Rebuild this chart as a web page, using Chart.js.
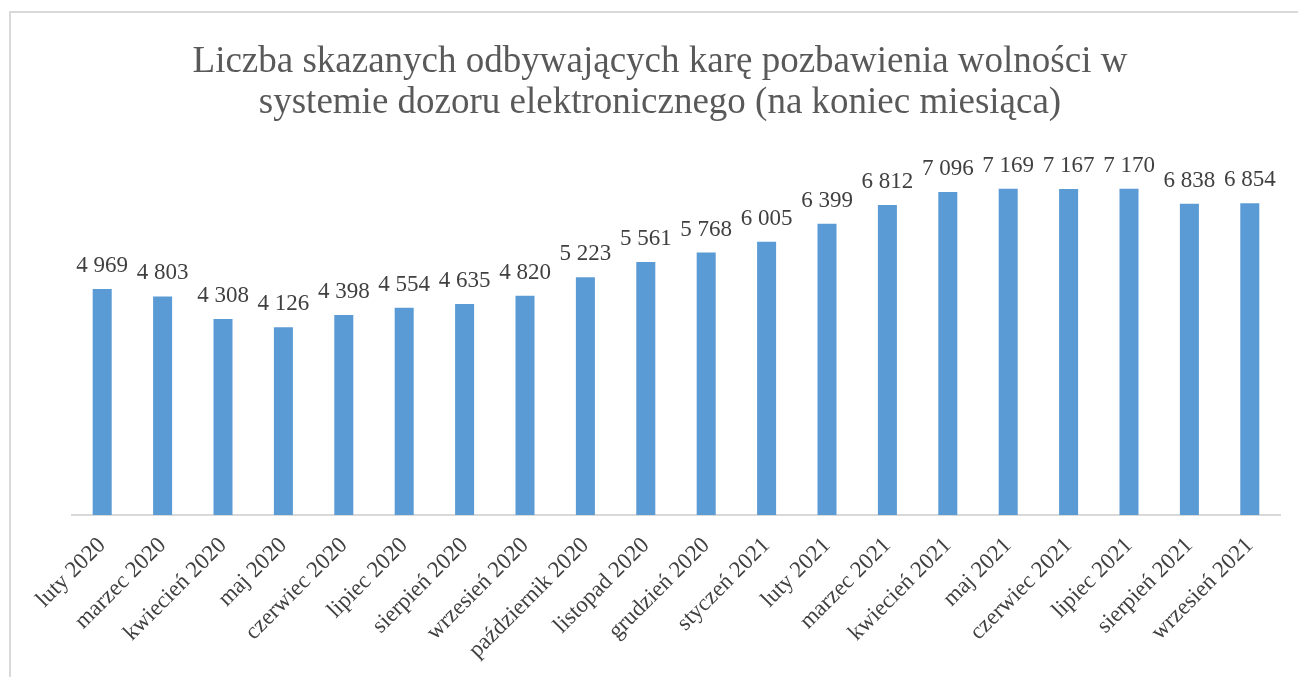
<!DOCTYPE html>
<html>
<head>
<meta charset="utf-8">
<script src="https://cdn.jsdelivr.net/npm/chart.js@4"></script>
<style>
  html, body { margin: 0; padding: 0; background: #fff; overflow: hidden; }
  #frame { position: absolute; left: 9px; top: 11px; width: 1400px; height: 800px; border: 2px solid #d9d9d9; }
  #wrap { position: absolute; left: 0; top: 0; width: 1298px; height: 677px; }
</style>
</head>
<body>
<div id="frame"></div>
<div id="wrap"><canvas id="chart" width="1298" height="677"></canvas></div>
<script>
const months = ['luty 2020', 'marzec 2020', 'kwiecień 2020', 'maj 2020', 'czerwiec 2020', 'lipiec 2020',
  'sierpień 2020', 'wrzesień 2020', 'październik 2020', 'listopad 2020', 'grudzień 2020', 'styczeń 2021',
  'luty 2021', 'marzec 2021', 'kwiecień 2021', 'maj 2021', 'czerwiec 2021', 'lipiec 2021',
  'sierpień 2021', 'wrzesień 2021'];
const convicts = [4969, 4803, 4308, 4126, 4398, 4554, 4635, 4820, 5223, 5561, 5768, 6005,
  6399, 6812, 7096, 7169, 7167, 7170, 6838, 6854];
const titleLines = ['Liczba skazanych odbywających karę pozbawienia wolności w',
  'systemie dozoru elektronicznego (na koniec miesiąca)'];

const serif = '"Liberation Serif", "Times New Roman", serif';

function fmt(v) {
  return String(v).replace(/\B(?=(\d{3})+(?!\d))/g, ' ');
}

// labels above bars
const barLabels = {
  id: 'barLabels',
  afterDatasetsDraw(chart) {
    const ctx = chart.ctx;
    const meta = chart.getDatasetMeta(0);
    ctx.save();
    ctx.font = '23px ' + serif;
    ctx.fillStyle = '#404040';
    ctx.textAlign = 'center';
    ctx.textBaseline = 'alphabetic';
    meta.data.forEach((bar, i) => {
      ctx.fillText(fmt(convicts[i]), bar.x, bar.y - 17);
    });
    ctx.restore();
  }
};

new Chart(document.getElementById('chart'), {
  type: 'bar',
  data: {
    labels: months,
    datasets: [{
      data: convicts,
      backgroundColor: '#5b9bd5',
      barPercentage: 0.63,
      categoryPercentage: 0.5
    }]
  },
  options: {
    responsive: false,
    animation: false,
    layout: { padding: { left: 40, right: 18, top: 0, bottom: 0 } },
    plugins: {
      legend: { display: false },
      tooltip: { enabled: false },
      title: {
        display: true,
        text: titleLines,
        color: '#595959',
        font: { family: serif, size: 37, weight: 'normal', lineHeight: 1.108 },
        padding: { top: 42, bottom: 27 }
      }
    },
    scales: {
      x: {
        grid: { display: false, drawTicks: false },
        border: { color: '#d9d9d9', width: 2 },
        ticks: {
          color: '#404040',
          font: { family: serif, size: 23 },
          minRotation: 45,
          maxRotation: 45,
          autoSkip: false,
          padding: 17
        },
        afterFit(s) { s.height = 162; }
      },
      y: {
        min: 0,
        max: 8000,
        grid: { display: false },
        border: { display: false },
        ticks: { display: false },
        afterFit(s) { s.width = 32; }
      }
    }
  },
  plugins: [barLabels]
});
</script>
</body>
</html>
